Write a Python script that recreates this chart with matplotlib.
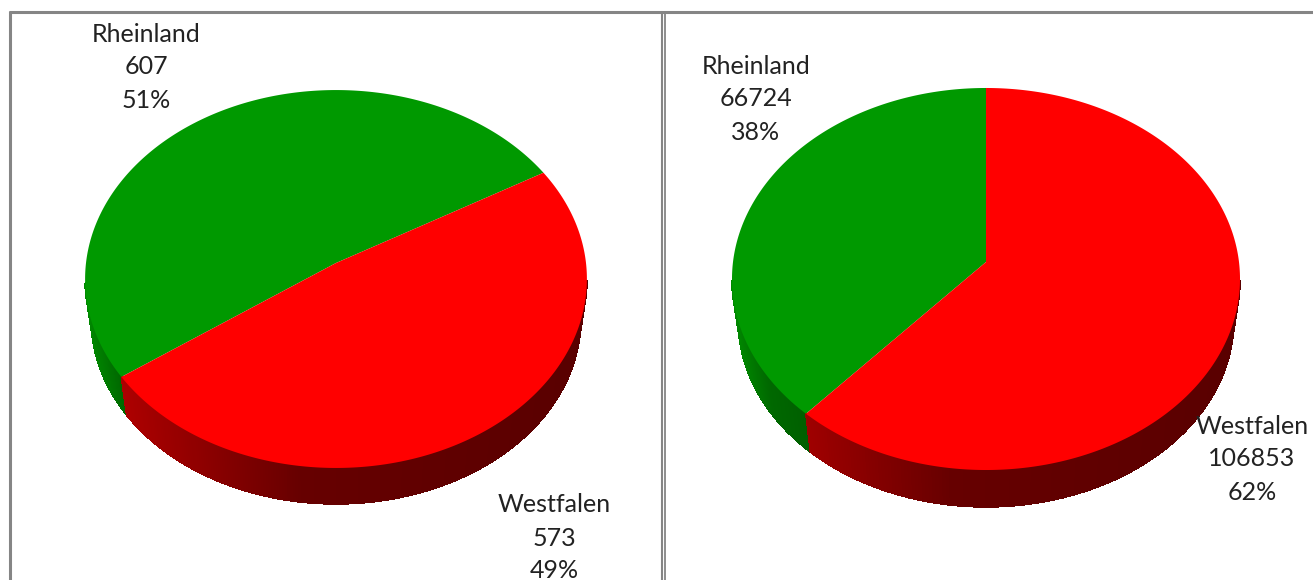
import numpy as np
import matplotlib
matplotlib.use("Agg")
import matplotlib.pyplot as plt
from matplotlib.collections import PolyCollection

names = ["Rheinland", "Westfalen"]
values_left = [607, 573]
values_right = [66724, 106853]
pct_left = ["51%", "49%"]
pct_right = ["38%", "62%"]
colors = [(0, 153 / 255, 0), (1, 0, 0)]

plt.rcParams["font.family"] = ["Lato", "DejaVu Sans"]

fig = plt.figure(figsize=(13.13, 5.8), dpi=100)
ax = fig.add_axes([0, 0, 1, 1])
ax.set_xlim(0, 1313)
ax.set_ylim(580, 0)
ax.axis("off")


def project(ang, cx, cy, a, b, k):
    # angle clockwise from the top, with a bit of perspective like excel 3d pies
    u = np.sin(ang)
    v = np.cos(ang)
    w = 1 + k * v
    return cx + a * u / w, cy - b * v / w


def shade(t):
    return np.interp(t, [0, 0.07, 0.43, 1], [0.9, 0.68, 0.4, 0.35])


def pie3d(values, start, cx, cy, a, b, k, depth):
    frac = np.array(values) / sum(values)
    # first slice runs counter clockwise from the start angle
    edges = [start, start - frac[0] * 2 * np.pi, start - 2 * np.pi]
    shrink = 0.975  # lower rim looks a little smaller than the top face
    for i in range(2):
        ang = np.linspace(edges[i], edges[i + 1], 300)
        x, y = project(ang, cx, cy, a, b, k)
        x2 = cx + (x - cx) * shrink
        y2 = cy + (y - cy) * shrink + depth

        quads = []
        cols = []
        for j in range(len(ang) - 1):
            if np.cos(ang[j]) > -0.1:  # back of the wall is hidden anyway
                continue
            quads.append([(x[j], y[j]), (x[j + 1], y[j + 1]),
                          (x2[j + 1], y2[j + 1]), (x2[j], y2[j])])
            f = shade((x[j] - (cx - a)) / (2 * a))
            cols.append((colors[i][0] * f, colors[i][1] * f, 0))
        ax.add_collection(PolyCollection(quads, facecolors=cols, edgecolors=cols,
                                         linewidths=0.6, antialiaseds=False, zorder=2))

    for i in range(2):
        ang = np.linspace(edges[i], edges[i + 1], 300)
        x, y = project(ang, cx, cy, a, b, k)
        ax.fill(np.r_[cx, x], np.r_[cy, y], color=colors[i], lw=0, zorder=3)


pie3d(values_left, np.radians(59.9), 336, 263, 250, 187.6, 0.0847, 41)
pie3d(values_right, 0, 986, 262, 253, 189.5, 0.089, 42)


def label(x, y, lines):
    for n, s in enumerate(lines):
        ax.text(x, y + n * 33, s, ha="center", va="center", fontsize=18,
                color="#222222", zorder=5)


label(146, 34, [names[0], str(values_left[0]), pct_left[0]])
label(554, 505, [names[1], str(values_left[1]), pct_left[1]])
label(756, 66, [names[0], str(values_right[0]), pct_right[0]])
label(1252, 426, [names[1], str(values_right[1]), pct_right[1]])

# panel frames
gray = "#858585"
ax.plot([9, 1313], [11.5, 11.5], color=gray, lw=2.2, solid_capstyle="butt", zorder=6)
ax.plot([10, 10], [10.5, 580], color=gray, lw=2.2, solid_capstyle="butt", zorder=6)
ax.plot([661.5, 661.5], [10.5, 580], color=gray, lw=1.5, solid_capstyle="butt", zorder=6)
ax.plot([664.5, 664.5], [10.5, 580], color=gray, lw=1.3, solid_capstyle="butt", zorder=6)

fig.savefig("out.png", dpi=100)
